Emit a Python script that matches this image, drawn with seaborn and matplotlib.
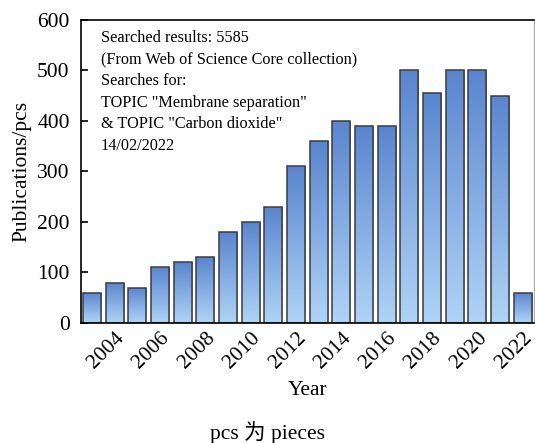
import numpy as np
import pandas as pd
import seaborn as sns
import matplotlib.pyplot as plt
from matplotlib.colors import LinearSegmentedColormap

# data
years = list(range(2003, 2023))
pubs = [60, 80, 70, 110, 120, 130, 180, 200, 230, 310,
        360, 400, 390, 390, 500, 455, 500, 500, 450, 60]
note_lines = ['Searched results: 5585',
              '(From Web of Science Core collection)',
              'Searches for:',
              'TOPIC "Membrane separation"',
              '& TOPIC "Carbon dioxide"',
              '14/02/2022']

sns.set_theme(style='white')
plt.rcParams['font.family'] = ['Liberation Serif', 'Noto Sans CJK SC']
plt.rcParams['axes.edgecolor'] = 'black'
plt.rcParams['text.color'] = 'black'
plt.rcParams['axes.labelcolor'] = 'black'
plt.rcParams['xtick.color'] = 'black'
plt.rcParams['ytick.color'] = 'black'

df = pd.DataFrame({'Year': [str(y) for y in years], 'Publications': pubs})

fig = plt.figure(figsize=(5.35, 4.43), dpi=100)
ax = fig.add_axes([0.151, 0.271, 0.847, 0.684])
sns.barplot(data=df, x='Year', y='Publications', ax=ax, width=0.8,
            color='#6d95d8', edgecolor='#3c3c3c', linewidth=1.1)

# vertical gradient in every bar
cmap = LinearSegmentedColormap.from_list('bl', ['#b0d4f7', '#5a85cf'])
grad = np.linspace(0, 1, 256).reshape(-1, 1)
for p in list(ax.patches):
    x0, y0 = p.get_x(), p.get_y()
    w, h = p.get_width(), p.get_height()
    im = ax.imshow(grad, cmap=cmap, origin='lower', aspect='auto',
                   extent=[x0, x0 + w, y0, y0 + h], zorder=1)
    im.set_clip_path(p)
    p.set_facecolor('none')
    p.set_zorder(2)

ax.set_xlim(-0.5, len(years) - 0.5)
ax.set_ylim(0, 600)
ax.set_yticks([0, 100, 200, 300, 400, 500, 600])
even = [i for i, y in enumerate(years) if y % 2 == 0]
ax.set_xticks(even)
ax.set_xticklabels([str(years[i]) for i in even], rotation=45,
                   ha='right', rotation_mode='anchor')
ax.tick_params(axis='both', direction='in', length=5, width=1.2,
               labelsize=15.5, color='black', bottom=True, left=True)
ax.tick_params(axis='x', pad=4)
ax.tick_params(axis='y', pad=8)
for s in ['left', 'bottom', 'top']:
    ax.spines[s].set_color('black')
    ax.spines[s].set_linewidth(1.2)
ax.spines['right'].set_color('#b0b0b0')
ax.spines['right'].set_linewidth(1.0)

ax.set_xlabel('Year', fontsize=15.5, labelpad=6)
ax.set_ylabel('Publications/pcs', fontsize=15.5, labelpad=4)

for i, line in enumerate(note_lines):
    ax.text(0.044, 0.94 - i * 0.071, line, transform=ax.transAxes,
            fontsize=11.7, va='center', ha='left')

fig.text(0.5, 0.025, 'pcs 为 pieces', fontsize=15.5, ha='center', va='center')

fig.savefig('out.png', dpi=100)
